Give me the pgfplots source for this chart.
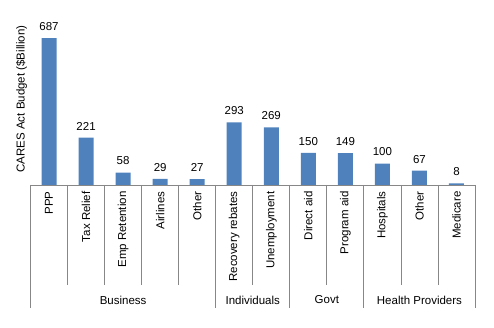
\documentclass[border=0pt]{standalone}
\usepackage{fontspec}
\setmainfont{Liberation Sans}
\usepackage{pgfplots}
\pgfplotsset{compat=1.18}
\definecolor{barblue}{HTML}{4F81BD}
\definecolor{sepgrey}{HTML}{878787}
\begin{document}
\begin{tikzpicture}
\useasboundingbox (0,0) rectangle (494pt,328pt);
\begin{axis}[
  at={(30.5pt,143pt)}, anchor=south west,
  scale only axis, width=444.5pt, height=172pt,
  xmin=-0.5, xmax=11.5, ymin=0, ymax=804,
  enlargelimits=false,
  axis x line*=bottom, axis y line=none,
  x axis line style={-, draw=sepgrey, line width=0.8pt},
  ytick=\empty,
  xtick={0,...,11},
  xticklabels={PPP,Tax Relief,Emp Retention,Airlines,Other,Recovery rebates,Unemployment,Direct aid,Program aid,Hospitals,Other,Medicare},
  major tick length=0pt,
  xticklabel style={rotate=90, anchor=east, font=\fontsize{11.5}{13}\selectfont, xshift=-3pt},
  /pgf/number format/assume math mode=true,
  nodes near coords,
  every node near coord/.append style={font=\fontsize{11.5}{13}\selectfont, anchor=south, yshift=4pt},
  clip=false,
]
\addplot[ybar, bar width=15pt, fill=barblue, draw=none] coordinates {
(0,687) (1,221) (2,58) (3,29) (4,27) (5,293) (6,269) (7,150) (8,149) (9,100) (10,67) (11,8)
};
\foreach \x in {0.5,1.5,2.5,3.5,5.5,7.5,9.5,10.5} {
  \edef\tmp{\noexpand\draw[sepgrey, line width=0.8pt] (axis cs:\x,0) -- ([yshift=-100pt]axis cs:\x,0);}\tmp
}
\foreach \x in {-0.5,4.5,6.5,8.5,11.5} {
  \edef\tmp{\noexpand\draw[sepgrey, line width=0.8pt] (axis cs:\x,0) -- ([yshift=-123pt]axis cs:\x,0);}\tmp
}
\node[font=\fontsize{11.5}{13}\selectfont] at ([yshift=-115pt]axis cs:2,0) {Business};
\node[font=\fontsize{11.5}{13}\selectfont] at ([yshift=-115pt]axis cs:5.5,0) {Individuals};
\node[font=\fontsize{11.5}{13}\selectfont] at ([yshift=-115pt]axis cs:7.5,0) {Govt};
\node[font=\fontsize{11.5}{13}\selectfont] at ([yshift=-115pt]axis cs:10,0) {Health Providers};
\node[rotate=90, font=\fontsize{11.5}{13}\selectfont] at ([xshift=-9pt]rel axis cs:0,0.5) {CARES Act Budget (\$Billion)};
\end{axis}
\end{tikzpicture}
\end{document}
